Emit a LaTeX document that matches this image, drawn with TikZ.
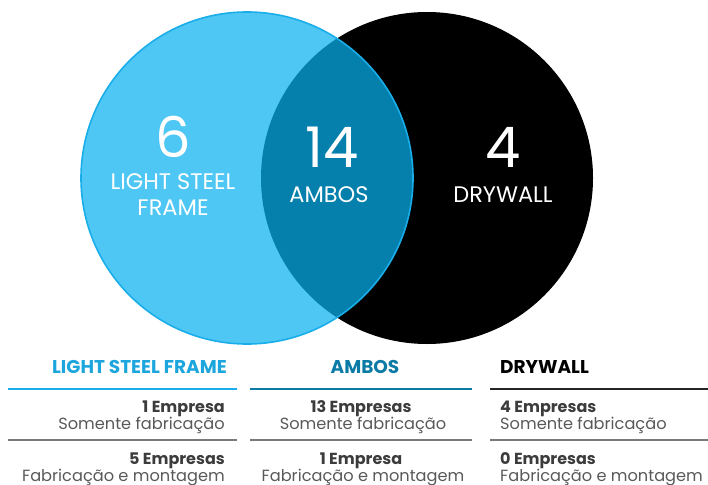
\documentclass[tikz,border=0pt]{standalone}
\usepackage{fontspec}
\setmainfont{Poppins}
\usetikzlibrary{calc}
\definecolor{lsf}{HTML}{4FC7F4}
\definecolor{lsfedge}{HTML}{19AEEA}
\definecolor{both}{HTML}{0580AD}
\definecolor{hblue}{HTML}{1CA6DD}
\definecolor{hboth}{HTML}{0B7BA6}
\definecolor{txtdark}{HTML}{3C3C3C}
\definecolor{txtgray}{HTML}{595959}
\definecolor{rulegray}{HTML}{7A7A7A}
\tikzset{
  bignum/.style={text=white, inner sep=0pt, anchor=base, font=\fontsize{56}{56}\selectfont},
  biglbl/.style={text=white, inner sep=0pt, anchor=base, font=\fontsize{22.5}{22.5}\selectfont},
  colhead/.style={inner sep=0pt, anchor=base, font=\fontsize{18.5}{18.5}\selectfont\bfseries},
  cnt/.style={inner sep=0pt, text=txtdark, font=\fontsize{16}{16}\selectfont\bfseries},
  sub/.style={inner sep=0pt, text=txtgray, font=\fontsize{16.2}{16.2}\selectfont},
  sep/.style={line width=1.3pt}
}
\begin{document}
\begin{tikzpicture}[x=1pt,y=-1pt]
\useasboundingbox (0,0) rectangle (708,484);
\coordinate (cL) at (247,178);
\coordinate (cR) at (427,178);
% circles
\fill[black] (cR) circle[radius=166pt];
\fill[lsf] (cL) circle[radius=166pt];
\begin{scope}
  \clip (cR) circle[radius=166pt];
  \fill[both] (cL) circle[radius=166pt];
\end{scope}
\draw[lsfedge, line width=1.6pt] (cL) circle[radius=166pt];
% labels in circles
\node[bignum] (n6) at (173,157) {6};
\node[biglbl] (l6a) at (173,189) {LIGHT STEEL};
\node[biglbl] (l6b) at (173,215) {FRAME};
\node[bignum] (n14) at (332,167) {14};
\node[biglbl] (l14) at (329,202) {AMBOS};
\node[bignum] (n4) at (503,167) {4};
\node[biglbl] (l4) at (503,202) {DRYWALL};
% column headers
\node[colhead, text=hblue, anchor=base east] (h1) at (227,373) {LIGHT STEEL FRAME};
\node[colhead, text=hboth] (h2) at (365,373) {AMBOS};
\node[colhead, text=black, anchor=base west] (h3) at (500,373) {DRYWALL};
% rules
\coordinate (r1a) at (8,389); \coordinate (r1b) at (237,389);
\coordinate (r2a) at (250,389); \coordinate (r2b) at (472,389);
\coordinate (r3a) at (490,389); \coordinate (r3b) at (708,389);
\draw[sep, draw=lsfedge] (r1a) -- (r1b);
\draw[sep, draw=hboth] (r2a) -- (r2b);
\draw[sep, draw=black!85] (r3a) -- (r3b);
\coordinate (s1a) at (8,440); \coordinate (s1b) at (237,440);
\coordinate (s2a) at (250,440); \coordinate (s2b) at (472,440);
\coordinate (s3a) at (490,440); \coordinate (s3b) at (708,440);
\draw[sep, draw=rulegray] (s1a) -- (s1b);
\draw[sep, draw=rulegray] (s2a) -- (s2b);
\draw[sep, draw=rulegray] (s3a) -- (s3b);
% column 1
\node[cnt, anchor=base east] (a1) at (225,412) {1 Empresa};
\node[sub, anchor=base east] (a2) at (225,429) {Somente fabricação};
\node[cnt, anchor=base east] (a3) at (225,464) {5 Empresas};
\node[sub, anchor=base east] (a4) at (225,481) {Fabricação e montagem};
% column 2
\node[cnt, anchor=base] (b1) at (361,412) {13 Empresas};
\node[sub, anchor=base] (b2) at (363,429) {Somente fabricação};
\node[cnt, anchor=base] (b3) at (361,464) {1 Empresa};
\node[sub, anchor=base] (b4) at (363,481) {Fabricação e montagem};
% column 3
\node[cnt, anchor=base west] (c1) at (500,412) {4 Empresas};
\node[sub, anchor=base west] (c2) at (500,429) {Somente fabricação};
\node[cnt, anchor=base west] (c3) at (500,464) {0 Empresas};
\node[sub, anchor=base west] (c4) at (500,481) {Fabricação e montagem};
\end{tikzpicture}
\end{document}
